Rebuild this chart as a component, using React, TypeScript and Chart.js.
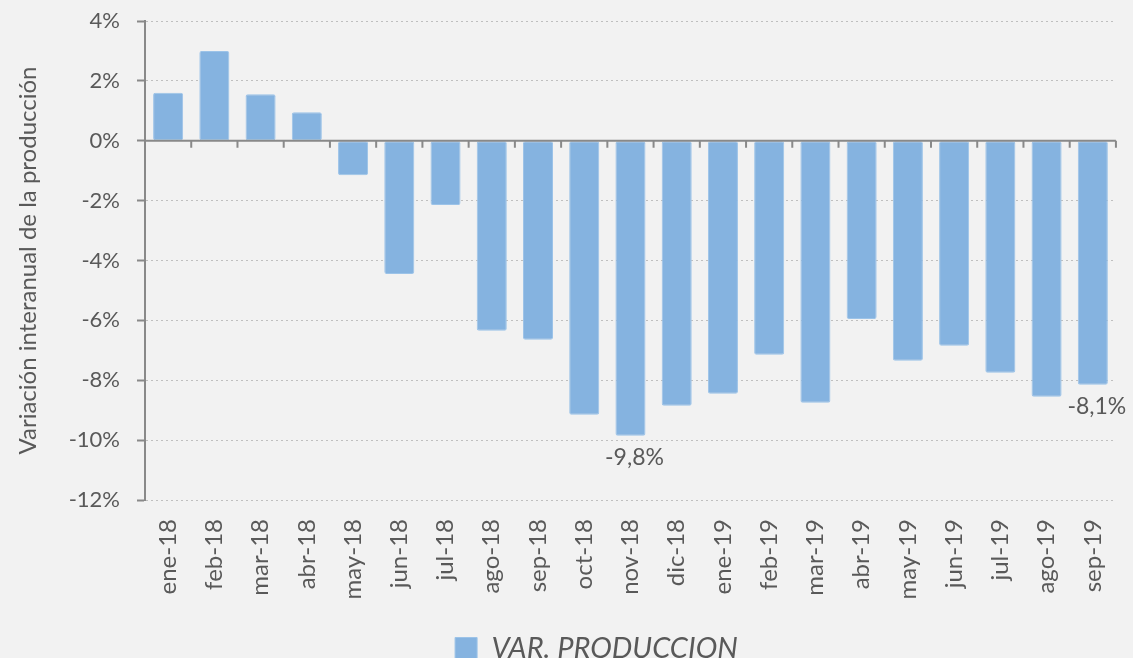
import React, { useEffect, useRef } from "react";
import { Chart, registerables } from "chart.js";

Chart.register(...registerables);

const categories = [
  "ene-18", "feb-18", "mar-18", "abr-18", "may-18", "jun-18", "jul-18", "ago-18", "sep-18", "oct-18",
  "nov-18", "dic-18", "ene-19", "feb-19", "mar-19", "abr-19", "may-19", "jun-19", "jul-19", "ago-19", "sep-19",
];
const varProduccion = [
  1.6, 3.0, 1.55, 0.95, -1.15, -4.45, -2.15, -6.35, -6.65, -9.15,
  -9.85, -8.85, -8.45, -7.15, -8.75, -5.95, -7.35, -6.85, -7.75, -8.55, -8.15,
];
const dataLabels = [
  "", "", "", "", "", "", "", "", "", "",
  "-9,8%", "", "", "", "", "", "", "", "", "", "-8,1%",
];
const yTicks = { min: -12, max: 4, step: 2 };
const seriesName = "VAR. PRODUCCION";
const yTitle = "Variación interanual de la producción";

const FONT = "Lato";
const GRAY_TEXT = "#595959";
const AXIS = "#898989";
const GRID = "#bfbfbf";
const BAR = "#85b3e0";
const BG = "#f2f2f2";

export default function App() {
  const ref = useRef<HTMLCanvasElement | null>(null);
  useEffect(() => {
    document.body.style.margin = "0";
    document.body.style.background = BG;
    const canvas = ref.current!;
    const bgPlugin = {
      id: "bg",
      beforeDraw(chart: any) {
        const { ctx, width, height } = chart;
        ctx.save();
        ctx.fillStyle = BG;
        ctx.fillRect(0, 0, width, height);
        ctx.restore();
      },
      afterLayout(chart: any) {
        const lg = chart.legend;
        if (lg) {
          lg.left += 38;
          lg.right += 38;
        }
      },
    };
    const zeroPlugin = {
      id: "zero",
      afterDatasetsDraw(chart: any) {
        const { ctx, chartArea } = chart;
        const y = chart.scales.y.getPixelForValue(0);
        const x = chart.scales.x;
        ctx.save();
        ctx.strokeStyle = AXIS;
        ctx.lineWidth = 2;
        ctx.beginPath();
        ctx.moveTo(chartArea.left, y);
        ctx.lineTo(chartArea.right, y);
        const n = categories.length;
        for (let i = 0; i < n; i++) {
          const bx = i < n - 1
            ? (x.getPixelForValue(i) + x.getPixelForValue(i + 1)) / 2
            : chartArea.right;
          ctx.moveTo(bx, y);
          ctx.lineTo(bx, y + 7);
        }
        ctx.stroke();
        // data labels
        const meta = chart.getDatasetMeta(0);
        ctx.fillStyle = GRAY_TEXT;
        ctx.font = `23px ${FONT}`;
        ctx.textAlign = "center";
        ctx.textBaseline = "top";
        meta.data.forEach((el: any, i: number) => {
          const t = dataLabels[i];
          if (!t) return;
          ctx.fillText(t, el.x + 4, el.y + 10);
        });
        ctx.restore();
      },
    };
    const chart = new Chart(canvas, {
      type: "bar",
      data: {
        labels: categories,
        datasets: [
          {
            label: seriesName,
            data: varProduccion,
            backgroundColor: BAR,
            borderColor: "#9cc3e8",
            borderWidth: 1,
            borderRadius: 2,
            borderSkipped: false,
            barPercentage: 0.65,
            categoryPercentage: 1,
          },
        ],
      },
      options: {
        animation: false,
        responsive: false,
        maintainAspectRatio: false,
        layout: { padding: { top: 21, right: 16, left: 0, bottom: -15 } },
        plugins: {
          tooltip: { enabled: false },
          legend: {
            position: "bottom",
            labels: {
              boxWidth: 22,
              boxHeight: 22,
              padding: 0,
              color: GRAY_TEXT,
              font: { family: FONT, size: 29, style: "italic" },
            },
          },
        },
        scales: {
          x: {
            grid: { display: false },
            border: { display: false },
            ticks: {
              color: GRAY_TEXT,
              font: { family: FONT, size: 24 },
              minRotation: 90,
              maxRotation: 90,
              padding: 11,
              autoSkip: false,
            },
            afterFit(scale: any) {
              scale.height = 134;
            },
          },
          y: {
            min: yTicks.min,
            max: yTicks.max,
            ticks: {
              stepSize: yTicks.step,
              color: GRAY_TEXT,
              font: { family: FONT, size: 22 },
              padding: 17,
              callback: (v: any) => `${v}%`,
            },
            grid: {
              color: GRID,
              lineWidth: 1,
              tickColor: AXIS,
              tickWidth: 2,
              tickLength: 8,
              tickBorderDash: [],
            },
            border: { display: true, color: AXIS, width: 2, dash: [2, 3] },
            title: {
              display: true,
              text: yTitle,
              color: GRAY_TEXT,
              font: { family: FONT, size: 24 },
              padding: { top: 14, bottom: 0 },
            },
            afterFit(scale: any) {
              scale.width = 145;
              scale.paddingTop = 0;
              scale.paddingBottom = 0;
            },
          },
        },
      },
      plugins: [bgPlugin, zeroPlugin],
    } as any);
    return () => chart.destroy();
  }, []);
  return (
    <div style={{ width: 1133, height: 658, background: BG }}>
      <canvas ref={ref} width={1133} height={658} style={{ display: "block" }} />
    </div>
  );
}
